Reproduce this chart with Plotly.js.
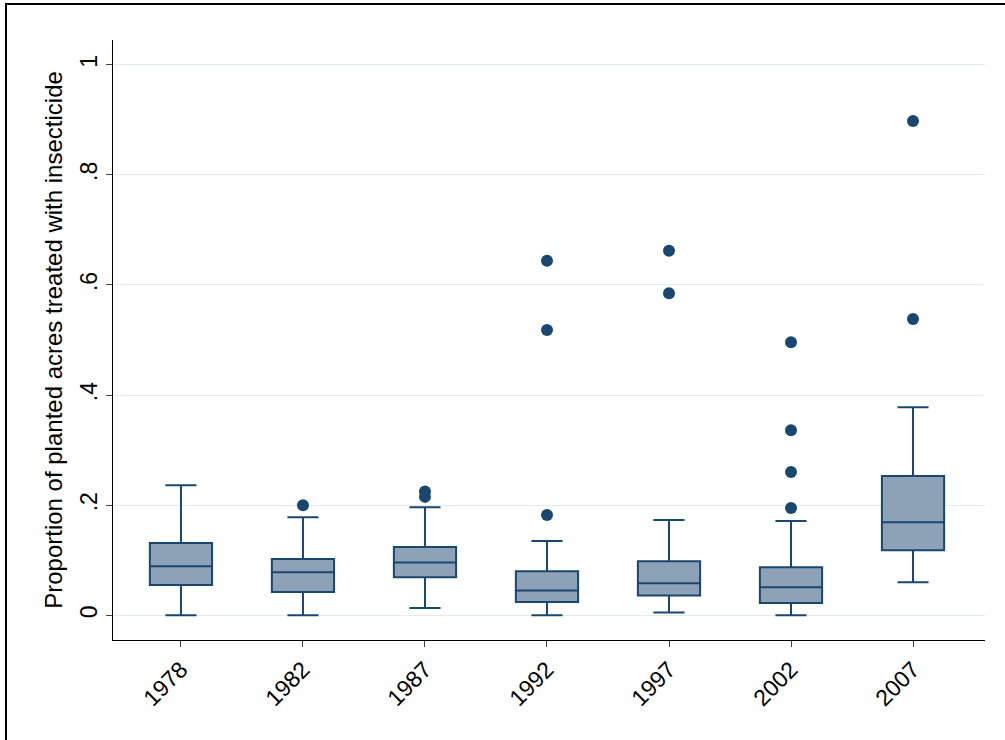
<!DOCTYPE html>
<html>
<head>
<script src="https://cdn.plot.ly/plotly-3.0.1.min.js"></script>
<style>
body { margin: 0; background: #fff; }
#frame { position: absolute; left: 5px; top: 3px; width: 1010px; height: 750px; border: 2px solid #000; box-sizing: border-box; }
#chart { position: absolute; left: 0; top: 0; width: 1005px; height: 740px; }
</style>
</head>
<body>
<div id="frame"></div>
<div id="chart"></div>
<script>
const years = ['1978', '1982', '1987', '1992', '1997', '2002', '2007'];
const lowerFence = [0, 0, 0.013, 0, 0.005, 0, 0.06];
const q1 = [0.055, 0.042, 0.069, 0.024, 0.036, 0.022, 0.118];
const median = [0.089, 0.078, 0.096, 0.045, 0.058, 0.051, 0.169];
const q3 = [0.131, 0.102, 0.124, 0.08, 0.098, 0.087, 0.253];
const upperFence = [0.236, 0.178, 0.196, 0.135, 0.173, 0.171, 0.378];
const outlierYears = ['1982', '1987', '1987', '1992', '1992', '1992', '1997', '1997', '2002', '2002', '2002', '2002', '2007', '2007'];
const outlierValues = [0.2, 0.225, 0.215, 0.182, 0.518, 0.644, 0.585, 0.662, 0.195, 0.26, 0.336, 0.496, 0.538, 0.898];

const navy = '#1a476f';

const boxes = {
  type: 'box',
  x: years,
  q1: q1,
  median: median,
  q3: q3,
  lowerfence: lowerFence,
  upperfence: upperFence,
  fillcolor: '#8ea2b7',
  line: { color: navy, width: 2 },
  whiskerwidth: 0.5,
  width: 0.51,
  boxpoints: false,
  hoverinfo: 'skip'
};

const outliers = {
  type: 'scatter',
  mode: 'markers',
  x: outlierYears,
  y: outlierValues,
  marker: { color: navy, size: 12 }
};

const layout = {
  width: 1005,
  height: 740,
  showlegend: false,
  paper_bgcolor: 'rgba(0,0,0,0)',
  plot_bgcolor: '#fff',
  margin: { l: 113, r: 20, t: 40, b: 100 },
  font: { family: 'Liberation Sans, Arial, sans-serif', color: '#000', size: 23 },
  xaxis: {
    type: 'category',
    range: [-0.557, 6.59],
    tickangle: -45,
    showline: true,
    linecolor: '#000',
    linewidth: 1,
    ticks: 'outside',
    ticklen: 6,
    showgrid: false,
    tickfont: { size: 23 }
  },
  yaxis: {
    range: [-0.045, 1.045],
    tickvals: [0, 0.2, 0.4, 0.6, 0.8, 1],
    ticktext: ['0', '.2', '.4', '.6', '.8', '1'],
    tickangle: -90,
    showline: true,
    linecolor: '#000',
    linewidth: 1,
    ticks: 'outside',
    ticklen: 6,
    gridcolor: '#e3ebeb',
    zeroline: false,
    tickfont: { size: 23 },
    title: { text: 'Proportion of planted acres treated with insecticide', font: { size: 24 }, standoff: 6 }
  }
};

Plotly.newPlot('chart', [boxes, outliers], layout, { displayModeBar: false });
</script>
</body>
</html>
